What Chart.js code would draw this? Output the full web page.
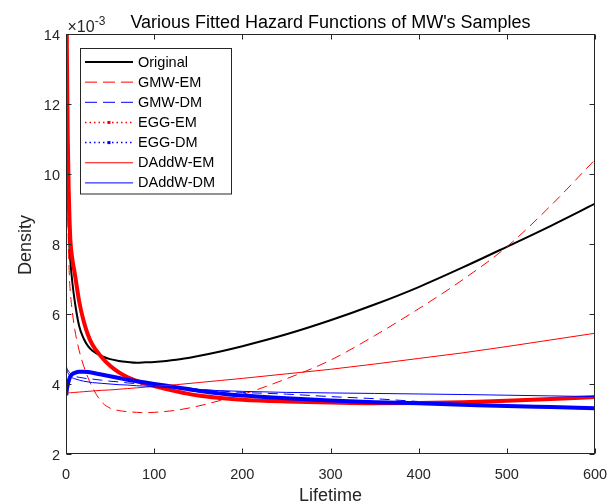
<!DOCTYPE html>
<html><head><meta charset="utf-8">
<script src="https://cdn.jsdelivr.net/npm/chart.js@4.4.1/dist/chart.umd.min.js"></script>
<style>html,body{margin:0;padding:0;background:#fff;}canvas{display:block;}</style>
</head><body>
<canvas id="c" width="613" height="504"></canvas>
<script>
// ---- data (hazard values in units of 10^-3) ----
const lifetime = [0.3, 1, 2, 3, 4, 5, 7, 10, 15, 20, 25, 30, 40, 50, 60, 70, 80, 90, 100, 125, 150, 175, 200, 250, 300, 350, 400, 450, 500, 550, 600];
const original = [17, 12.6, 10.0, 8.7, 7.9, 7.5, 6.95, 6.35, 5.65, 5.30, 5.08, 4.95, 4.80, 4.71, 4.66, 4.63, 4.61, 4.62, 4.63, 4.69, 4.80, 4.93, 5.08, 5.42, 5.82, 6.27, 6.77, 7.33, 7.92, 8.52, 9.15];
const gmwEM = [17, 11.5, 9.0, 7.7, 7.0, 6.6, 6.1, 5.55, 4.95, 4.52, 4.18, 3.90, 3.50, 3.31, 3.24, 3.21, 3.19, 3.18, 3.19, 3.25, 3.37, 3.53, 3.70, 4.15, 4.68, 5.38, 6.15, 6.98, 7.92, 9.10, 10.41];
const gmwDM = [4.52, 4.45, 4.40, 4.36, 4.33, 4.30, 4.26, 4.22, 4.19, 4.17, 4.15, 4.14, 4.11, 4.08, 4.06, 4.03, 4.01, 3.98, 3.96, 3.90, 3.85, 3.80, 3.76, 3.71, 3.64, 3.58, 3.50, 3.43, 3.37, 3.32, 3.28];
const eggEM = [17, 13.5, 11.0, 9.6, 8.7, 8.1, 7.6, 7.15, 6.35, 5.80, 5.40, 5.12, 4.78, 4.52, 4.33, 4.19, 4.09, 4.01, 3.94, 3.79, 3.67, 3.60, 3.55, 3.50, 3.47, 3.45, 3.46, 3.48, 3.52, 3.57, 3.63];
const eggDM = [3.68, 3.85, 3.98, 4.08, 4.16, 4.22, 4.28, 4.32, 4.35, 4.35, 4.34, 4.32, 4.27, 4.22, 4.17, 4.12, 4.08, 4.04, 4.00, 3.91, 3.81, 3.73, 3.67, 3.59, 3.53, 3.48, 3.45, 3.41, 3.37, 3.34, 3.31];
const daddwEM = [3.74, 3.74, 3.745, 3.75, 3.75, 3.75, 3.755, 3.76, 3.77, 3.78, 3.79, 3.80, 3.82, 3.83, 3.85, 3.87, 3.89, 3.91, 3.93, 3.98, 4.04, 4.10, 4.16, 4.29, 4.42, 4.57, 4.73, 4.89, 5.07, 5.26, 5.45];
const daddwDM = [4.48, 4.40, 4.33, 4.28, 4.25, 4.22, 4.18, 4.15, 4.11, 4.08, 4.06, 4.04, 4.02, 4.00, 3.98, 3.97, 3.95, 3.94, 3.92, 3.88, 3.84, 3.81, 3.79, 3.76, 3.745, 3.73, 3.715, 3.70, 3.68, 3.66, 3.64];
const seriesNames = ['Original', 'GMW-EM', 'GMW-DM', 'EGG-EM', 'EGG-DM', 'DAddW-EM', 'DAddW-DM'];
const seriesValues = [original, gmwEM, gmwDM, eggEM, eggDM, daddwEM, daddwDM];
const xTickValues = [0, 100, 200, 300, 400, 500, 600];
const yTickValues = [2, 4, 6, 8, 10, 12, 14];
const chartTitle = "Various Fitted Hazard Functions of MW's Samples";
const xAxisTitle = 'Lifetime';
const yAxisTitle = 'Density';
const yExponent = '-3';

// ---- styles ----
const FONT = '"Liberation Sans", Arial, Helvetica, sans-serif';
const AXC = '#262626';
const styles = [
  { color: '#000000', width: 2, dash: [], legendDash: [], legendWidth: 2 },
  { color: '#ff0000', width: 1, dash: [10, 6], legendDash: [12, 6], legendWidth: 1 },
  { color: '#0000ff', width: 1, dash: [10, 6], legendDash: [12, 6], legendWidth: 1 },
  { color: '#ff0000', width: 4, dash: [], legendDash: [1.5, 3], legendWidth: 1.5, marker: true },
  { color: '#0000ff', width: 4, dash: [], legendDash: [1.5, 3], legendWidth: 1.5, marker: true },
  { color: '#ff0000', width: 1, dash: [], legendDash: [], legendWidth: 1 },
  { color: '#0000ff', width: 1, dash: [], legendDash: [], legendWidth: 1 }
];

const datasets = seriesNames.map((name, i) => ({
  label: name,
  data: lifetime.map((x, k) => ({ x: x, y: seriesValues[i][k] })),
  borderColor: styles[i].color,
  backgroundColor: styles[i].color,
  borderWidth: styles[i].width,
  borderDash: styles[i].dash,
  pointRadius: 0,
  fill: false,
  cubicInterpolationMode: 'monotone',
  order: seriesNames.length - i,
  legendStyle: styles[i]
}));

const frame = {
  id: 'frame',
  afterDatasetsDraw(chart) {
    const { ctx, chartArea: a, scales: { x, y } } = chart;
    ctx.save();
    ctx.strokeStyle = AXC; ctx.lineWidth = 1; ctx.setLineDash([]);
    const L = Math.round(a.left) + 0.5, R = Math.round(a.right) - 0.5;
    const T = Math.round(a.top) + 0.5, B = Math.round(a.bottom) - 0.5;
    ctx.strokeRect(L, T, R - L, B - T);
    const tl = 5;
    ctx.beginPath();
    x.ticks.forEach(t => {
      const px = Math.round(x.getPixelForValue(t.value)) + 0.5;
      ctx.moveTo(px, B); ctx.lineTo(px, B - tl);
      ctx.moveTo(px, T); ctx.lineTo(px, T + tl);
    });
    y.ticks.forEach(t => {
      const py = Math.round(y.getPixelForValue(t.value)) + 0.5;
      ctx.moveTo(L, py); ctx.lineTo(L + tl, py);
      ctx.moveTo(R, py); ctx.lineTo(R - tl, py);
    });
    ctx.stroke();

    // titles
    ctx.fillStyle = '#000';
    ctx.font = '18px ' + FONT;
    ctx.textAlign = 'center'; ctx.textBaseline = 'alphabetic';
    ctx.fillText(chartTitle, (a.left + a.right) / 2, 27.5);
    ctx.fillStyle = AXC;
    ctx.fillText(xAxisTitle, (a.left + a.right) / 2, 501);
    ctx.save();
    ctx.translate(31, (a.top + a.bottom) / 2 + 1);
    ctx.rotate(-Math.PI / 2);
    ctx.fillText(yAxisTitle, 0, 0);
    ctx.restore();

    // exponent
    ctx.textAlign = 'left';
    ctx.font = '16px ' + FONT;
    ctx.fillText('\u00d710', 67.5, 31.7);
    const w = ctx.measureText('\u00d710').width;
    ctx.font = '12px ' + FONT;
    ctx.fillText(yExponent, 67.5 + w, 25);

    // legend
    const bx = 80.5, by = 48.5, bw = 151, bh = 145.5;
    ctx.fillStyle = '#fff';
    ctx.fillRect(bx, by, bw, bh);
    ctx.strokeStyle = '#262626'; ctx.lineWidth = 1;
    ctx.strokeRect(bx, by, bw, bh);
    ctx.font = '14.5px ' + FONT;
    ctx.textBaseline = 'middle';
    chart.data.datasets.forEach((ds, i) => {
      const st = ds.legendStyle;
      const ly = 62 + i * 20.15;
      ctx.strokeStyle = st.color;
      ctx.lineWidth = st.legendWidth;
      ctx.setLineDash(st.legendDash);
      ctx.beginPath();
      ctx.moveTo(85, ly); ctx.lineTo(133, ly);
      ctx.stroke();
      ctx.setLineDash([]);
      if (st.marker) {
        ctx.fillStyle = st.color;
        ctx.fillRect(107.5, ly - 1.5, 3, 3);
      }
      ctx.fillStyle = '#000';
      ctx.fillText(ds.label, 138, ly + 0.5);
    });
    ctx.restore();
  }
};

new Chart(document.getElementById('c'), {
  type: 'line',
  data: { datasets: datasets },
  options: {
    responsive: false,
    animation: false,
    devicePixelRatio: 1,
    layout: { padding: { left: 0, right: 18, top: 34, bottom: 0 } },
    scales: {
      x: {
        type: 'linear', min: 0, max: 600,
        afterBuildTicks: s => { s.ticks = xTickValues.map(v => ({ value: v })); },
        afterFit: s => { s.height = 50; s.paddingLeft = 0; s.paddingRight = 0; },
        grid: { display: false, drawTicks: false },
        border: { display: false },
        ticks: { color: AXC, font: { family: FONT, size: 14.5 }, padding: 12, maxRotation: 0, autoSkip: false }
      },
      y: {
        type: 'linear', min: 2, max: 14,
        afterBuildTicks: s => { s.ticks = yTickValues.map(v => ({ value: v })); },
        afterFit: s => { s.width = 66; s.paddingTop = 0; s.paddingBottom = 0; },
        grid: { display: false, drawTicks: false },
        border: { display: false },
        ticks: { color: AXC, font: { family: FONT, size: 14.5 }, padding: 6, labelOffset: 2, autoSkip: false }
      }
    },
    plugins: { legend: { display: false }, tooltip: { enabled: false }, title: { display: false } }
  },
  plugins: [frame]
});
</script>
</body></html>
